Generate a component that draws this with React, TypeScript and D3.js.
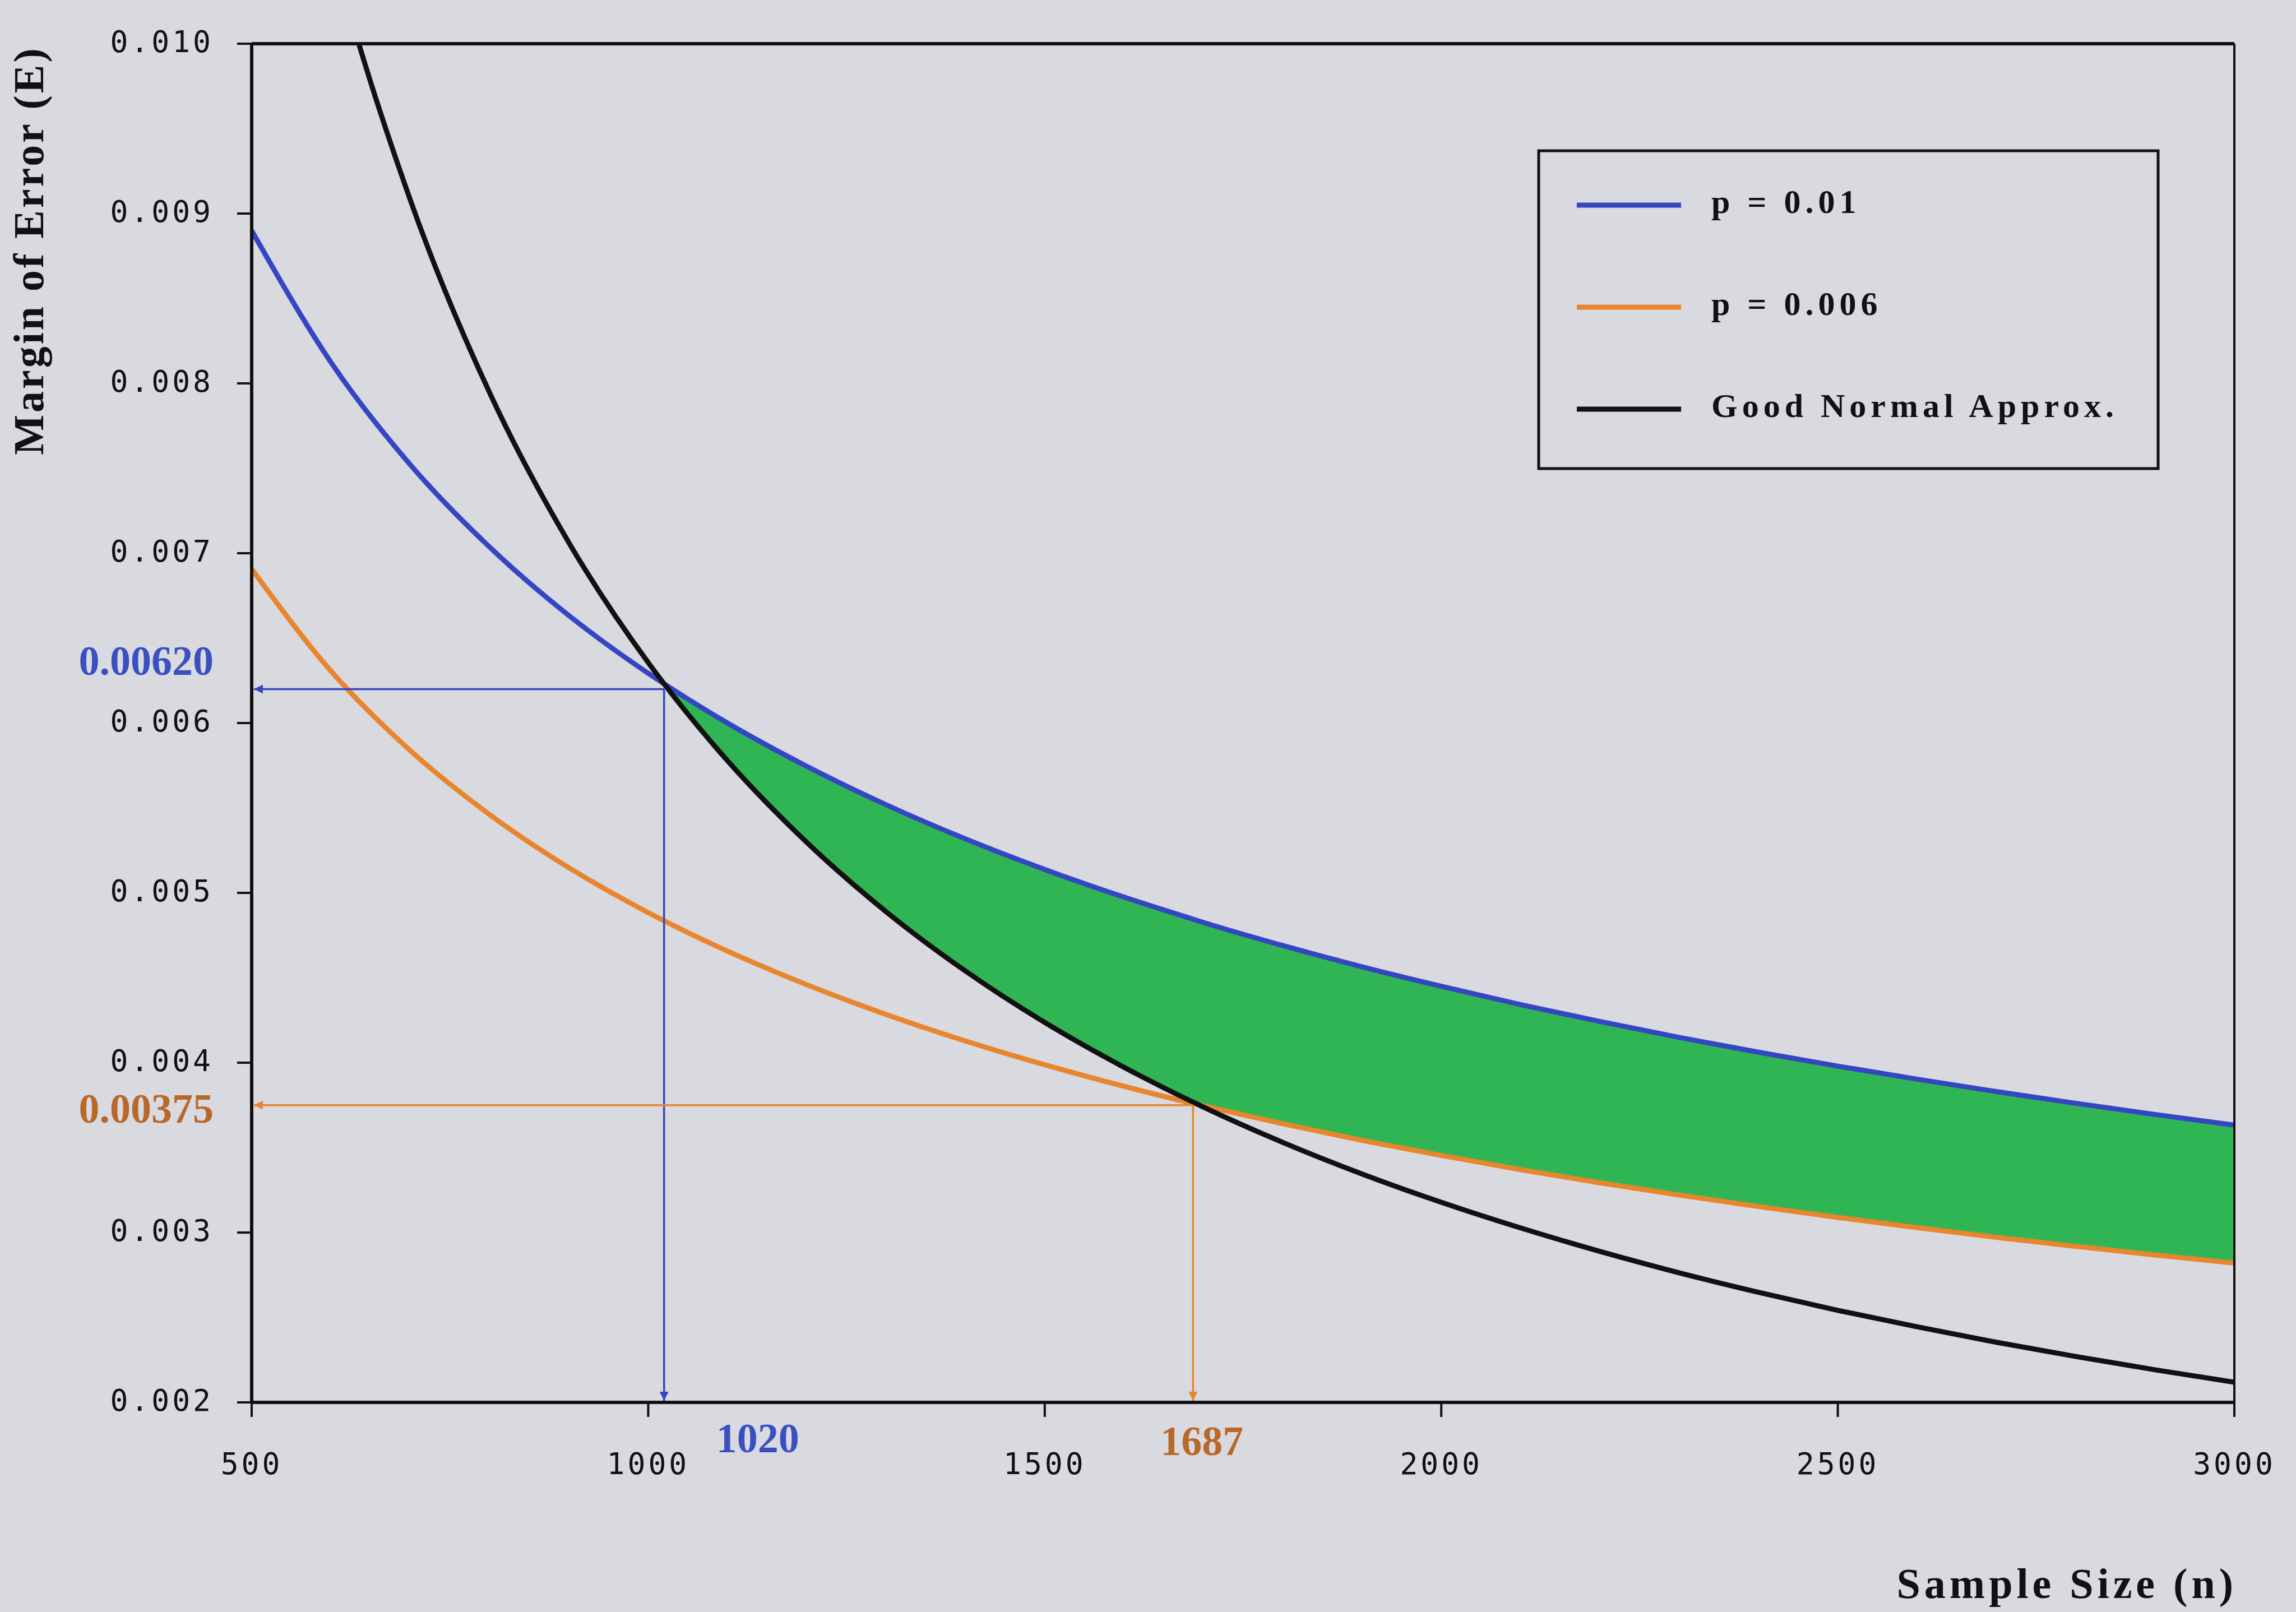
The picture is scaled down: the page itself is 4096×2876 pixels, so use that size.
import React from 'react';
import * as d3 from 'd3';

const width = 4096;
const height = 2876;
const margin = {top: 78, right: 110, bottom: 374, left: 449};
const bg = '#d9d9e0';
const blue = '#3446c2';
const orange = '#e8862e';
const black = '#111111';
const green = '#2fb553';
const blueText = '#3a50c0';
const orangeText = '#b8692a';

// sample sizes read along the x axis (1020 and 1687 are the marked crossings)
const sampleSizes = [500, 600, 700, 800, 900, 1000, 1020, 1100, 1200, 1300, 1400, 1500, 1600, 1687,
  1700, 1800, 1900, 2000, 2100, 2200, 2300, 2400, 2500, 2600, 2700, 2800, 2900, 3000];
// margin of error, p = 0.01
const errP01 = [0.008899, 0.008124, 0.007521, 0.007036, 0.006633, 0.006293, 0.006231, 0.006000, 0.005745,
  0.005519, 0.005318, 0.005138, 0.004975, 0.004845, 0.004826, 0.004690, 0.004565, 0.004450, 0.004342,
  0.004243, 0.004149, 0.004062, 0.003980, 0.003903, 0.003830, 0.003761, 0.003695, 0.003633];
// margin of error, p = 0.006
const errP006 = [0.006907, 0.006306, 0.005838, 0.005461, 0.005148, 0.004884, 0.004836, 0.004657, 0.004459,
  0.004284, 0.004128, 0.003988, 0.003861, 0.003760, 0.003746, 0.003641, 0.003543, 0.003454, 0.003370,
  0.003293, 0.003221, 0.003153, 0.003089, 0.003029, 0.002972, 0.002919, 0.002868, 0.002820];
// good normal approximation boundary
const errNormal = [0.01271, 0.01059, 0.009080, 0.007945, 0.007062, 0.006356, 0.006231, 0.005778, 0.005297,
  0.004889, 0.004540, 0.004237, 0.003973, 0.003768, 0.003739, 0.003531, 0.003345, 0.003178, 0.003027,
  0.002889, 0.002763, 0.002648, 0.002542, 0.002445, 0.002354, 0.002270, 0.002192, 0.002119];

const xTicks = [500, 1000, 1500, 2000, 2500, 3000];
const yTicks = [0.002, 0.003, 0.004, 0.005, 0.006, 0.007, 0.008, 0.009, 0.010];

// marked points
const blueMark = {n: 1020, e: 0.0062, nLabel: '1020', eLabel: '0.00620'};
const orangeMark = {n: 1687, e: 0.00375, nLabel: '1687', eLabel: '0.00375'};

const legendItems = [
  {label: 'p = 0.01', color: blue},
  {label: 'p = 0.006', color: orange},
  {label: 'Good Normal Approx.', color: black},
];

const xScale = d3.scaleLinear().domain([500, 3000]).range([margin.left, width - margin.right]);
const yScale = d3.scaleLinear().domain([0.002, 0.010]).range([height - margin.bottom, margin.top]);

const App = () => {
  const x0 = xScale(500);
  const x1 = xScale(3000);
  const yTop = yScale(0.010);
  const yBot = yScale(0.002);

  const line = d3.line<number>()
    .x((d, i) => xScale(sampleSizes[i]))
    .y(d => yScale(d))
    .curve(d3.curveMonotoneX);

  // shaded band: below p = 0.01 and above both other curves
  const bandIdx = sampleSizes.map((n, i) => i).filter(i => sampleSizes[i] >= blueMark.n);
  const band = d3.area<number>()
    .x(i => xScale(sampleSizes[i]))
    .y0(i => yScale(Math.max(errP006[i], errNormal[i])))
    .y1(i => yScale(errP01[i]))
    .curve(d3.curveMonotoneX);

  const tickFont = {fontFamily: '"DejaVu Sans Mono", monospace', fontSize: 53, letterSpacing: 5, fill: '#111'};
  const markFont = {fontFamily: '"Liberation Serif", serif', fontSize: 74, fontWeight: 'bold'};
  const titleFont = {fontFamily: '"Liberation Serif", serif', fontSize: 76, fontWeight: 'bold', fill: '#111'};

  const marks = [
    {m: blueMark, color: blue, text: blueText, eDy: -42, nDx: 167},
    {m: orangeMark, color: orange, text: orangeText, eDy: 14, nDx: 16},
  ];

  return (
    <svg width={width} height={height} style={{position: 'absolute', left: 0, top: 0, background: bg}}>
      <defs>
        <clipPath id='plot'>
          <rect x={x0} y={yTop} width={x1 - x0} height={yBot - yTop} />
        </clipPath>
        {marks.map(({color}, k) => (
          <marker key={k} id={`arrow${k}`} viewBox='0 0 10 10' refX='10' refY='5'
            markerWidth='20' markerHeight='16' markerUnits='userSpaceOnUse' orient='auto'>
            <path d='M0,0 L10,5 L0,10 z' fill={color} />
          </marker>
        ))}
      </defs>
      <rect width={width} height={height} fill={bg} />

      <g clipPath='url(#plot)'>
        <path d={band(bandIdx)} fill={green} />
        <path d={line(errP006)} fill='none' stroke={orange} strokeWidth='9' />
        <path d={line(errP01)} fill='none' stroke={blue} strokeWidth='9' />
        <path d={line(errNormal)} fill='none' stroke={black} strokeWidth='9' />
      </g>

      {/* drop lines to the axes */}
      {marks.map(({m, color}, k) => (
        <g key={k} stroke={color} strokeWidth='3.5' fill='none'>
          <line x1={xScale(m.n)} y1={yScale(m.e)} x2={x0 + 4} y2={yScale(m.e)} markerEnd={`url(#arrow${k})`} />
          <line x1={xScale(m.n)} y1={yScale(m.e)} x2={xScale(m.n)} y2={yBot - 3} markerEnd={`url(#arrow${k})`} />
        </g>
      ))}

      {/* plot frame */}
      <line x1={x0} y1={yTop} x2={x1} y2={yTop} stroke={black} strokeWidth='6' />
      <line x1={x1} y1={yTop} x2={x1} y2={yBot} stroke={black} strokeWidth='4' />
      <line x1={x0} y1={yBot} x2={x1} y2={yBot} stroke={black} strokeWidth='6' />
      <line x1={x0} y1={yTop} x2={x0} y2={yBot} stroke={black} strokeWidth='6' />

      {yTicks.map(t => (
        <g key={t}>
          <line x1={x0 - 26} x2={x0} y1={yScale(t)} y2={yScale(t)} stroke={black} strokeWidth='4' />
          <text x={381} y={yScale(t)} dominantBaseline='middle' textAnchor='end' {...tickFont}>
            {d3.format('.3f')(t)}
          </text>
        </g>
      ))}
      {xTicks.map(t => (
        <g key={t}>
          <line x1={xScale(t)} x2={xScale(t)} y1={yBot} y2={yBot + 26} stroke={black} strokeWidth='4' />
          <text x={xScale(t)} y={yBot + 113} dominantBaseline='middle' textAnchor='middle' {...tickFont}>
            {t}
          </text>
        </g>
      ))}

      {marks.map(({m, text, eDy, nDx}, k) => (
        <g key={k} fill={text} {...markFont}>
          <text x={381} y={yScale(m.e) + eDy} dominantBaseline='middle' textAnchor='end'>{m.eLabel}</text>
          <text x={xScale(m.n) + nDx} y={yBot + 72 + k * 5} dominantBaseline='middle' textAnchor='middle'>{m.nLabel}</text>
        </g>
      ))}

      {/* legend */}
      <g>
        <rect x={2745} y={269} width={1105} height={567} fill='none' stroke={black} strokeWidth='5' />
        {legendItems.map((d, i) => (
          <g key={d.label} transform={`translate(2813, ${366 + i * 182})`}>
            <line x1={0} x2={186} y1={0} y2={0} stroke={d.color} strokeWidth='9' />
            <text x={240} y={0} dominantBaseline='middle' fontFamily='"Liberation Serif", serif'
              fontSize={60} fontWeight='bold' letterSpacing='8' fill='#111'>{d.label}</text>
          </g>
        ))}
      </g>

      <text transform={`translate(60, 447) rotate(-90)`} textAnchor='middle' dominantBaseline='middle'
        letterSpacing='4' {...titleFont}>Margin of Error (E)</text>
      <text x={3991} y={2834} textAnchor='end' dominantBaseline='middle' letterSpacing='7' {...titleFont}>
        Sample Size  (n)
      </text>
    </svg>
  );
};

export default App;
